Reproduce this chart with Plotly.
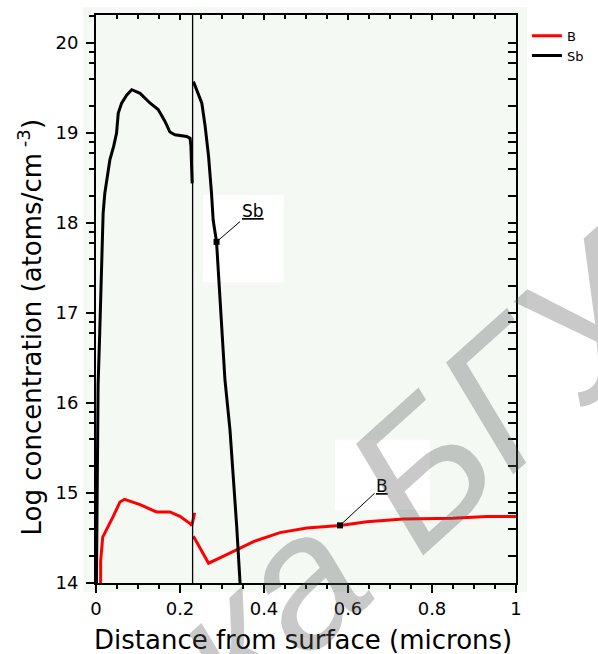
import math
import plotly.graph_objects as go

# ---------------- data ----------------
b_left_x = [0.011, 0.011, 0.016, 0.025, 0.041, 0.057, 0.068, 0.105, 0.144, 0.176, 0.200, 0.224, 0.228, 0.235]
b_left_y = [14.00, 14.24, 14.51, 14.59, 14.74, 14.90, 14.93, 14.87, 14.79, 14.79, 14.74, 14.66, 14.64, 14.78]
b_right_x = [0.232, 0.268, 0.300, 0.335, 0.375, 0.438, 0.502, 0.581, 0.645, 0.732, 0.850, 0.930, 1.000]
b_right_y = [14.52, 14.22, 14.29, 14.37, 14.46, 14.56, 14.61, 14.64, 14.68, 14.71, 14.72, 14.74, 14.74]

sb_left_x = [0.001, 0.003, 0.005, 0.009, 0.013, 0.017, 0.021, 0.033, 0.042, 0.049, 0.053, 0.061,
             0.073, 0.085, 0.105, 0.129, 0.148, 0.164, 0.176, 0.188, 0.216, 0.224, 0.226, 0.229]
sb_left_y = [14.00, 15.00, 16.20, 16.80, 17.40, 18.11, 18.33, 18.70, 18.85, 19.00, 19.22, 19.33,
             19.42, 19.48, 19.44, 19.33, 19.26, 19.13, 19.01, 18.98, 18.96, 18.94, 18.85, 18.44]
sb_right_x = [0.232, 0.240, 0.252, 0.260, 0.268, 0.275, 0.279, 0.287, 0.299, 0.307, 0.319, 0.327, 0.335, 0.343]
sb_right_y = [19.57, 19.48, 19.33, 19.07, 18.74, 18.33, 18.03, 17.79, 16.85, 16.26, 15.70, 15.20, 14.63, 14.00]

interface_x = 0.23

label_names = ["Sb", "B"]
label_x = [0.287, 0.581]
label_y = [17.79, 14.64]

x_ticks = [0, 0.2, 0.4, 0.6, 0.8, 1.0]
x_ticktext = ["0", "0.2", "0.4", "0.6", "0.8", "1"]
y_ticks = [14, 15, 16, 17, 18, 19, 20]
y_range = [14, 20.31]
y_minor = [d + math.log10(k) for d in range(14, 21) for k in (2, 4, 6, 8)]
y_minor = [v for v in y_minor if v < y_range[1]]

FONT = "DejaVu Sans"

fig = go.Figure()
fig.add_trace(go.Scatter(x=b_left_x + [None] + b_right_x, y=b_left_y + [None] + b_right_y,
                         mode="lines", name="B", line=dict(color="#ff0000", width=3),
                         connectgaps=False))
fig.add_trace(go.Scatter(x=sb_left_x + [None] + sb_right_x, y=sb_left_y + [None] + sb_right_y,
                         mode="lines", name="Sb", line=dict(color="black", width=3),
                         connectgaps=False))
fig.add_trace(go.Scatter(x=label_x, y=label_y, mode="markers", showlegend=False,
                         marker=dict(symbol="square", size=6, color="black")))
# dummy trace for mirrored (inward ticks) axes
fig.add_trace(go.Scatter(x=[None], y=[None], xaxis="x2", yaxis="y2", showlegend=False,
                         hoverinfo="skip"))

fig.add_vline(x=interface_x, line=dict(color="black", width=1.3))

# background panels
fig.add_shape(type="rect", xref="paper", yref="paper", x0=-0.031, x1=1.026, y0=-0.016, y1=1.014,
              fillcolor="#f4f9f4", line=dict(width=0), layer="below")
fig.add_shape(type="rect", xref="x", yref="y", x0=0.255, x1=0.447, y0=17.34, y1=18.31,
              fillcolor="white", line=dict(width=0), layer="below")
fig.add_shape(type="rect", xref="x", yref="y", x0=0.569, x1=0.795, y0=14.81, y1=15.59,
              fillcolor="white", line=dict(width=0), layer="below")

axis_common = dict(showgrid=False, zeroline=False, showline=True, linecolor="black", linewidth=2)

fig.update_layout(
    width=598, height=654,
    margin=dict(l=96, r=82, t=15, b=71, autoexpand=False),
    paper_bgcolor="white", plot_bgcolor="rgba(0,0,0,0)",
    font=dict(family=FONT, color="black", size=18),
    xaxis=dict(range=[0, 1], tickvals=x_ticks, ticktext=x_ticktext, ticks="outside",
               ticklen=8, tickwidth=1.5, tickcolor="black",
               tickfont=dict(family=FONT, size=18, color="black"),
               minor=dict(dtick=0.05, tick0=0, ticks="outside", ticklen=4, tickwidth=1.5,
                          tickcolor="black"),
               **axis_common),
    yaxis=dict(range=y_range, tickvals=y_ticks, ticks="outside", ticklen=8, tickwidth=1.5,
               tickcolor="black", tickfont=dict(family=FONT, size=18, color="black"),
               ticklabelstandoff=4,
               minor=dict(tickvals=y_minor, ticks="outside", ticklen=5, tickwidth=1.5,
                          tickcolor="black"),
               **axis_common),
    xaxis2=dict(range=[0, 1], overlaying="x", side="top", anchor="y", tickvals=x_ticks,
                ticks="inside", ticklen=5, tickwidth=1.5, tickcolor="black", showticklabels=False,
                minor=dict(dtick=0.05, tick0=0, ticks="inside", ticklen=4, tickwidth=1.5,
                           tickcolor="black"),
                **axis_common),
    yaxis2=dict(range=y_range, overlaying="y", side="right", anchor="x", tickvals=y_ticks,
                ticks="inside", ticklen=8, tickwidth=1.5, tickcolor="black", showticklabels=False,
                minor=dict(tickvals=y_minor, ticks="inside", ticklen=8, tickwidth=1.5,
                           tickcolor="black"),
                **axis_common),
    legend=dict(x=1.026, y=0.99, xanchor="left", yanchor="top", bgcolor="rgba(0,0,0,0)",
                font=dict(family=FONT, size=13, color="black"), tracegroupgap=0,
                itemwidth=30),
    showlegend=True,
)

# axis titles
fig.add_annotation(text="Distance from surface (microns)", xref="paper", yref="paper",
                   x=0.493, y=-0.10, xanchor="center", yanchor="middle", showarrow=False,
                   font=dict(family=FONT, size=26, color="black"))
fig.add_annotation(text="Log concentration (atoms/cm<sup> -3</sup>)", xref="paper", yref="paper",
                   x=-0.157, y=0.45, xanchor="center", yanchor="middle", showarrow=False,
                   textangle=-90, font=dict(family=FONT, size=26, color="black"))

# curve labels with leader lines
label_offsets = [(36, -31), (42, -39)]
for name, lx, ly, (ax, ay) in zip(label_names, label_x, label_y, label_offsets):
    fig.add_annotation(text="<u>" + name + "</u>", x=lx, y=ly, xref="x", yref="y",
                       ax=ax, ay=ay, showarrow=True, arrowhead=0, arrowwidth=1,
                       arrowcolor="black", standoff=0,
                       font=dict(family=FONT, size=17, color="black"))

# watermark
fig.add_annotation(text="ка БГУИР", xref="paper", yref="paper", x=0.98, y=0.336,
                   xanchor="center", yanchor="middle", showarrow=False, textangle=-42,
                   font=dict(family="Liberation Sans", size=186, style="italic",
                             color="rgba(90,90,90,0.33)"))

fig.write_html("out.html")
